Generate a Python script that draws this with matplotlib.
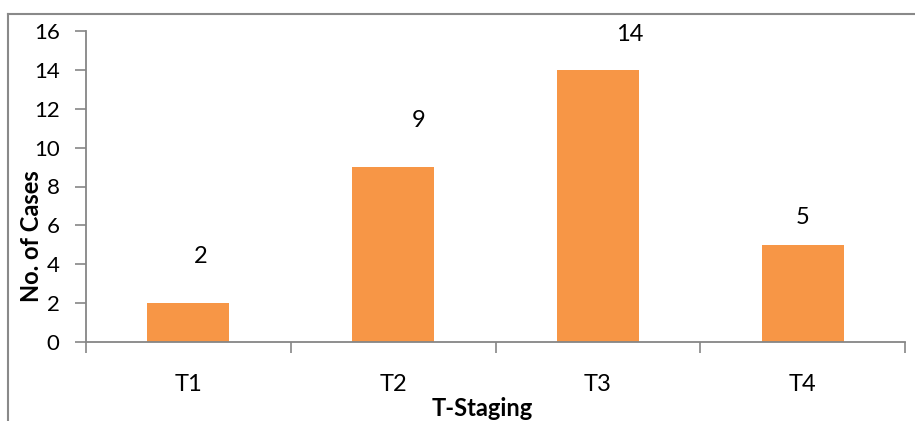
import matplotlib
matplotlib.use("Agg")
import matplotlib.pyplot as plt
from matplotlib.lines import Line2D

categories = ["T1", "T2", "T3", "T4"]
cases = [2, 9, 14, 5]
yticks = [0, 2, 4, 6, 8, 10, 12, 14, 16]

# label offsets from bar-top centre, in points (dx, dy)
label_offsets = [(9, 33.5), (18.4, 33.5), (23, 25.6), (0, 19.8)]

plt.rcParams['font.family'] = ['Lato', 'DejaVu Sans']

fig = plt.figure(figsize=(9.15, 4.21), dpi=100)
ax = fig.add_axes([86/915, 1-342/421, (905-86)/915, (342-31)/421])

x = list(range(len(categories)))
ax.bar(x, cases, width=0.4, color="#F79646", zorder=2)
ax.set_xlim(-0.5, len(categories)-0.5)
ax.set_ylim(0, 16)
ax.set_yticks(yticks)
ax.set_yticklabels([str(t) for t in yticks], fontsize=16)
ax.set_xticks(x)
ax.set_xticklabels(categories, fontsize=17)
ax.tick_params(axis='x', length=0, pad=23)
ax.set_xticks([i - 0.5 for i in range(len(categories)+1)], minor=True)
ax.tick_params(axis='x', which='minor', length=8, color="#868686", width=1.2)
ax.tick_params(axis='y', length=8, color="#868686", width=1.2, pad=11)

for s in ["top", "right"]:
    ax.spines[s].set_visible(False)
for s in ["left", "bottom"]:
    ax.spines[s].set_color("#868686")
    ax.spines[s].set_linewidth(1.3)

for xi, v, (dx, dy) in zip(x, cases, label_offsets):
    ax.annotate(str(v), (xi, v), xytext=(dx, dy), textcoords="offset points",
                ha="center", va="center", fontsize=17)

ax.set_ylabel("No. of Cases", fontsize=17, fontweight="bold")
ax.yaxis.set_label_coords(-43/819, 0.341)
ax.set_xlabel("T-Staging", fontsize=17, fontweight="bold")
ax.xaxis.set_label_coords(0.484, -(397-342)/311)

# outer frame (left and top)
fig.add_artist(Line2D([8/915, 8/915], [0, 1-14/421], transform=fig.transFigure,
                      color="#898989", linewidth=1.5))
fig.add_artist(Line2D([8/915, 1], [1-14/421, 1-14/421], transform=fig.transFigure,
                      color="#898989", linewidth=1.5))

fig.savefig("out.png", dpi=100)
